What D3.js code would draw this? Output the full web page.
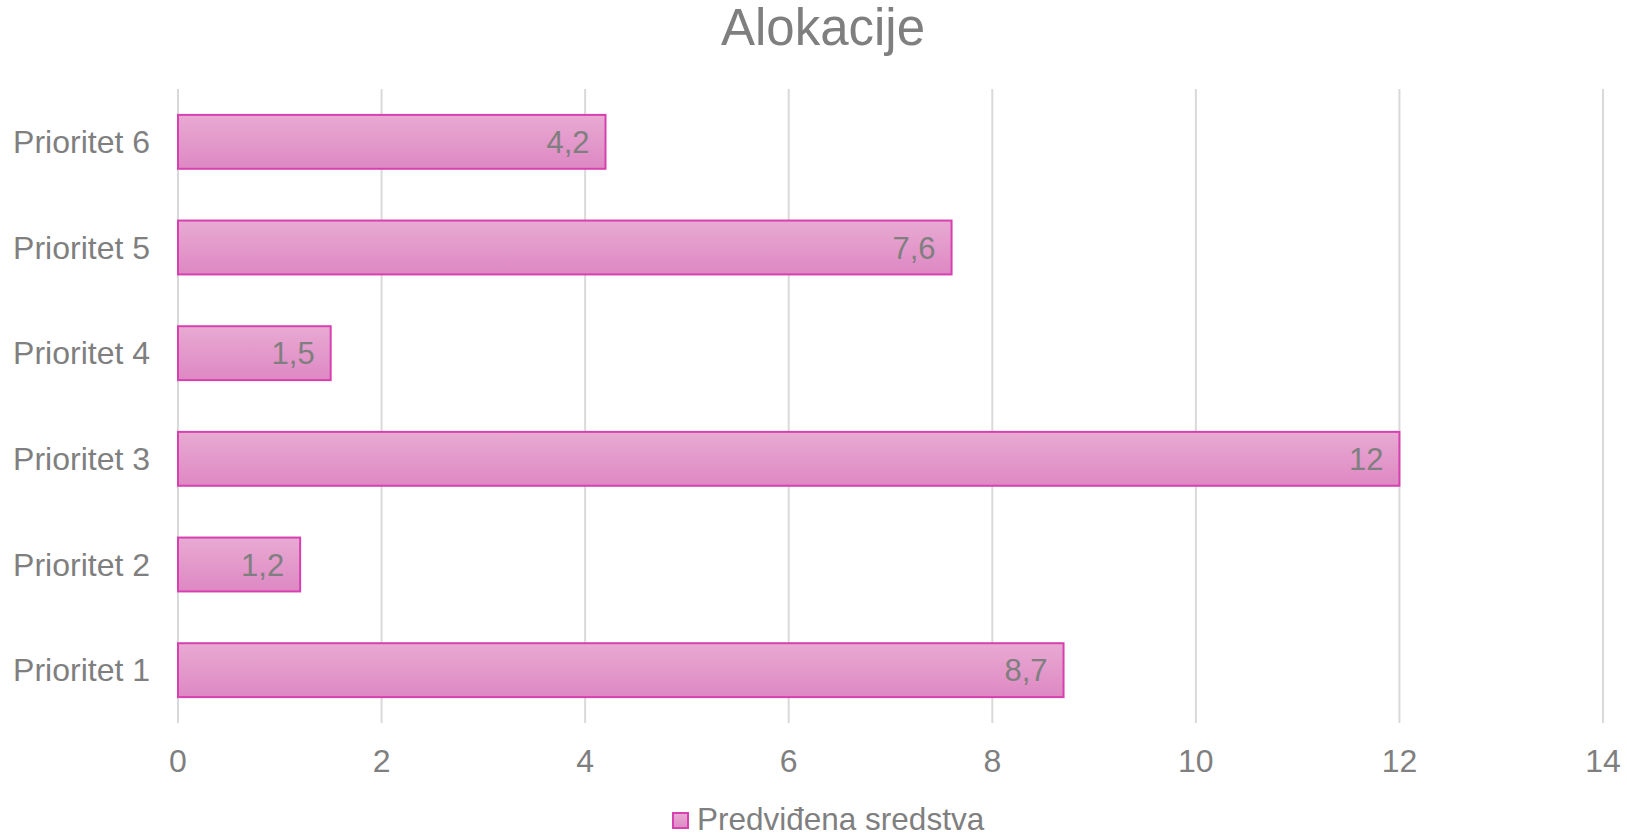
<!DOCTYPE html>
<html>
<head>
<meta charset="utf-8">
<script src="https://cdn.jsdelivr.net/npm/d3@7"></script>
<style>
  body { margin: 0; background: #fff; }
  text { font-family: 'Liberation Sans', Arial, sans-serif; fill: #7f7f7f; }
</style>
</head>
<body>
<div id="chart"></div>
<script>
const categories = ['Prioritet 1', 'Prioritet 2', 'Prioritet 3', 'Prioritet 4', 'Prioritet 5', 'Prioritet 6'];
const values = [8.7, 1.2, 12, 1.5, 7.6, 4.2];
const xTicks = [0, 2, 4, 6, 8, 10, 12, 14];
const seriesName = 'Predviđena sredstva';
const title = 'Alokacije';

const width = 1627;
const height = 836;
const plot = { left: 178, right: 1603, top: 89, bottom: 723 };

const svg = d3.select('#chart').append('svg').attr('width', width).attr('height', height);

const defs = svg.append('defs');
const grad = defs.append('linearGradient').attr('id', 'barFill').attr('x1', 0).attr('y1', 0).attr('x2', 0).attr('y2', 1);
grad.append('stop').attr('offset', '0%').attr('stop-color', '#e8aad3');
grad.append('stop').attr('offset', '100%').attr('stop-color', '#de88c3');

const x = d3.scaleLinear().domain([0, 14]).range([plot.left, plot.right]);
const y = d3
  .scaleBand()
  .domain(categories.slice().reverse())
  .range([plot.top, plot.bottom])
  .paddingInner(0.49)
  .paddingOuter(0.245);

// gridlines
svg
  .append('g')
  .selectAll('line')
  .data(xTicks)
  .join('line')
  .attr('x1', (d) => x(d))
  .attr('x2', (d) => x(d))
  .attr('y1', plot.top)
  .attr('y2', plot.bottom)
  .attr('stroke', '#d9d9d9')
  .attr('stroke-width', 2);

// tick labels
svg
  .append('g')
  .selectAll('text')
  .data(xTicks)
  .join('text')
  .attr('x', (d) => x(d))
  .attr('y', 772)
  .attr('text-anchor', 'middle')
  .style('font-size', '32px')
  .text((d) => d);

// category labels
svg
  .append('g')
  .selectAll('text')
  .data(categories)
  .join('text')
  .attr('x', plot.left - 28)
  .attr('y', (d) => y(d) + y.bandwidth() / 2 + 11)
  .attr('text-anchor', 'end')
  .style('font-size', '32px')
  .text((d) => d);

const data = categories.map((c, i) => ({ cat: c, value: values[i] }));

// bars
svg
  .append('g')
  .selectAll('rect')
  .data(data)
  .join('rect')
  .attr('x', x(0))
  .attr('y', (d) => y(d.cat))
  .attr('width', (d) => x(d.value) - x(0))
  .attr('height', y.bandwidth())
  .attr('fill', 'url(#barFill)')
  .attr('stroke', '#d640b0')
  .attr('stroke-width', 2);

// data labels
const fmt = (v) => String(v).replace('.', ',');
svg
  .append('g')
  .selectAll('text')
  .data(data)
  .join('text')
  .attr('x', (d) => x(d.value) - 16)
  .attr('y', (d) => y(d.cat) + y.bandwidth() / 2 + 11)
  .attr('text-anchor', 'end')
  .style('font-size', '31px')
  .text((d) => fmt(d.value));

// title
svg
  .append('text')
  .attr('x', 823)
  .attr('y', 45)
  .attr('text-anchor', 'middle')
  .style('font-size', '51px')
  .text(title);

// legend
const legend = svg.append('g');
legend
  .append('rect')
  .attr('x', 673)
  .attr('y', 813)
  .attr('width', 15)
  .attr('height', 15)
  .attr('fill', 'url(#barFill)')
  .attr('stroke', '#d640b0')
  .attr('stroke-width', 2);
legend
  .append('text')
  .attr('x', 697)
  .attr('y', 830)
  .style('font-size', '31.5px')
  .text(seriesName);
</script>
</body>
</html>
